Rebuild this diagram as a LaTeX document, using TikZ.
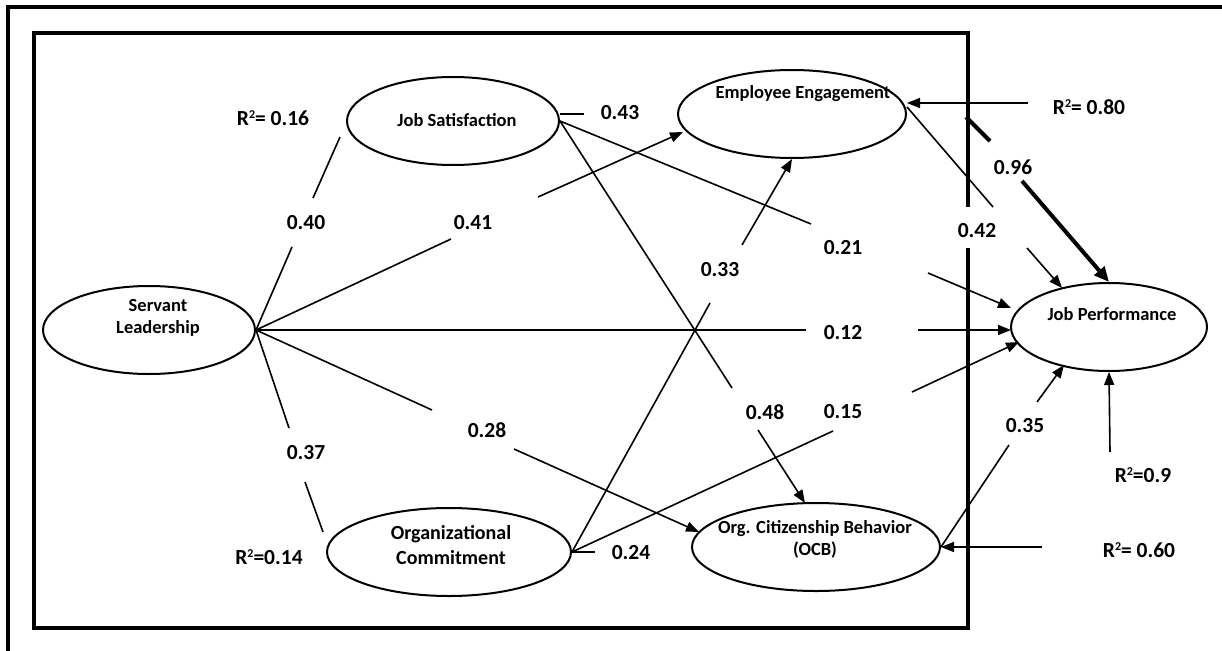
\documentclass[tikz,border=0pt]{standalone}
\usepackage{fontspec}
\setmainfont{Carlito}
\usetikzlibrary{shapes.geometric,arrows.meta}
\newcommand\mylblfont{\fontsize{21.5}{24}\selectfont\bfseries}
\newcommand\mynodefont{\fontsize{18.5}{21.5}\selectfont\bfseries}
\newcommand\mysqr{\raisebox{6.6pt}{\fontsize{12}{12}\selectfont 2}}
\tikzset{
  ell/.style={draw, line width=2pt, ellipse, inner sep=0pt},
  lbl/.style={font=\mylblfont, inner sep=0pt},
  ntxt/.style={font=\mynodefont, align=center, inner sep=0pt},
  con/.style={line width=1.6pt},
  arr/.style={con, -{Triangle[length=13pt,width=10pt]}},
  heavy/.style={line width=4pt},
  heavyarr/.style={line width=4pt, -{Triangle[length=15pt,width=13pt]}},
  frameline/.style={line width=4.5pt, line join=miter}
}
\begin{document}
\begin{tikzpicture}[x=1pt,y=-1pt]
\useasboundingbox (0,0) rectangle (1222,650);
% frames
\draw[line width=3.5pt] (8,652) -- (8,7) -- (1224,7);
\draw[frameline] (968,207) -- (968,33) -- (34,33) -- (34,628) -- (968,628) -- (968,248);
% ellipses
\node[ell, minimum width=212pt, minimum height=88pt] (sl) at (149,330) {};
\node[ntxt] (slt) at (158,318) {Servant\\Leadership};
\node[ell, minimum width=212pt, minimum height=88pt] (js) at (453,121) {};
\node[ntxt] (jst) at (457,120) {Job Satisfaction};
\node[ell, minimum width=228pt, minimum height=88pt] (ee) at (792,114) {};
\node[ntxt] (eet) at (803,94) {Employee Engagement};
\node[ell, minimum width=196pt, minimum height=88pt] (jp) at (1109,327) {};
\node[ntxt] (jpt) at (1112,314) {Job Performance};
\node[ell, minimum width=244pt, minimum height=88pt] (oc) at (449,552) {};
\node[ntxt, font=\fontsize{20}{25}\selectfont\bfseries] (oct) at (451,545) {Organizational\\Commitment};
\node[ell, minimum width=248pt, minimum height=88pt] (ocb) at (816,547) {};
\node[ntxt, font=\fontsize{18.5}{22}\selectfont\bfseries] (ocbt) at (815,539) {Org. Citizenship Behavior\\(OCB)};
% labels
\node[lbl] (l40) at (306,223) {0.40};
\node[lbl] (l41) at (473,223) {0.41};
\node[lbl] (l12) at (843,333) {0.12};
\node[lbl] (l28) at (487,430) {0.28};
\node[lbl] (l37) at (306,453) {0.37};
\node[lbl] (l43) at (620,113) {0.43};
\node[lbl] (l21) at (843,248) {0.21};
\node[lbl] (l48) at (765,412) {0.48};
\node[lbl] (l33) at (720,270) {0.33};
\node[lbl] (l15) at (843,412) {0.15};
\node[lbl] (l24) at (631,553) {0.24};
\node[lbl] (l42) at (977,231) {0.42};
\node[lbl] (l96) at (1013,167) {0.96};
\node[lbl] (l35) at (1025,426) {0.35};
\node[lbl] (r80) at (1089,107) {R\mysqr= 0.80};
\node[lbl] (r16) at (273,118) {R\mysqr= 0.16};
\node[lbl] (r14) at (269,557) {R\mysqr=0.14};
\node[lbl] (r9) at (1143,475) {R\mysqr=0.9};
\node[lbl] (r60) at (1139,550) {R\mysqr= 0.60};
% connector coordinates
\coordinate (g40a) at (292,247); \coordinate (g40b) at (313,198); \coordinate (e40) at (340,137);
\coordinate (g41a) at (451,239); \coordinate (g41b) at (538,197); \coordinate (e41) at (683,132);
\coordinate (g12a) at (806,330); \coordinate (g12b) at (918,330); \coordinate (e12) at (1011,330);
\coordinate (g28a) at (432,410); \coordinate (g28b) at (514,449); \coordinate (e28) at (699,532);
\coordinate (g37a) at (289,428); \coordinate (g37b) at (305,482); \coordinate (e37) at (323,532);
\coordinate (s43) at (560,114); \coordinate (e43) at (584,114);
\coordinate (g21a) at (811,224); \coordinate (g21b) at (928,273); \coordinate (e21) at (1011,308);
\coordinate (g48a) at (732,388); \coordinate (g48b) at (758,430); \coordinate (e48) at (805,503);
\coordinate (g33a) at (710,303); \coordinate (g33b) at (742,245);
\coordinate (g15a) at (833,431); \coordinate (g15b) at (912,392); \coordinate (e15) at (1019,342);
\coordinate (e24) at (595,552);
\coordinate (s42) at (907,107); \coordinate (g42a) at (993,207); \coordinate (g42b) at (1027,248); \coordinate (e42) at (1062,288);
\coordinate (a80) at (1028,103);
\coordinate (s96) at (966,117); \coordinate (g96a) at (990,141); \coordinate (g96b) at (1022,181);
\coordinate (g35a) at (1009,445); \coordinate (g35b) at (1037,402); \coordinate (e35) at (1064,365);
\coordinate (a9) at (1110,452);
\coordinate (a60) at (1042,547);
% connectors
\draw[con] (sl.east) -- (g40a); \draw[con] (g40b) -- (e40);
\draw[con] (sl.east) -- (g41a); \draw[arr] (g41b) -- (e41);
\draw[con] (sl.east) -- (g12a); \draw[arr] (g12b) -- (e12);
\draw[con] (sl.east) -- (g28a); \draw[arr] (g28b) -- (e28);
\draw[con] (sl.east) -- (g37a); \draw[con] (g37b) -- (e37);
\draw[con] (s43) -- (e43);
\draw[con] (js.east) -- (g21a); \draw[arr] (g21b) -- (e21);
\draw[con] (js.east) -- (g48a); \draw[arr] (g48b) -- (e48);
\draw[con] (oc.east) -- (g33a); \draw[arr] (g33b) -- (ee.south);
\draw[con] (oc.east) -- (g15a); \draw[arr] (g15b) -- (e15);
\draw[con] (oc.east) -- (e24);
\draw[con] (s42) -- (g42a); \draw[arr] (g42b) -- (e42);
\draw[arr] (a80) -- (ee.east |- a80);
\draw[heavy] (s96) -- (g96a); \draw[heavyarr] (g96b) -- (jp.north);
\draw[con] (ocb.east) -- (g35a); \draw[arr] (g35b) -- (e35);
\draw[arr] (a9) -- (jp.south);
\draw[arr] (a60) -- (ocb.east);
\end{tikzpicture}
\end{document}
